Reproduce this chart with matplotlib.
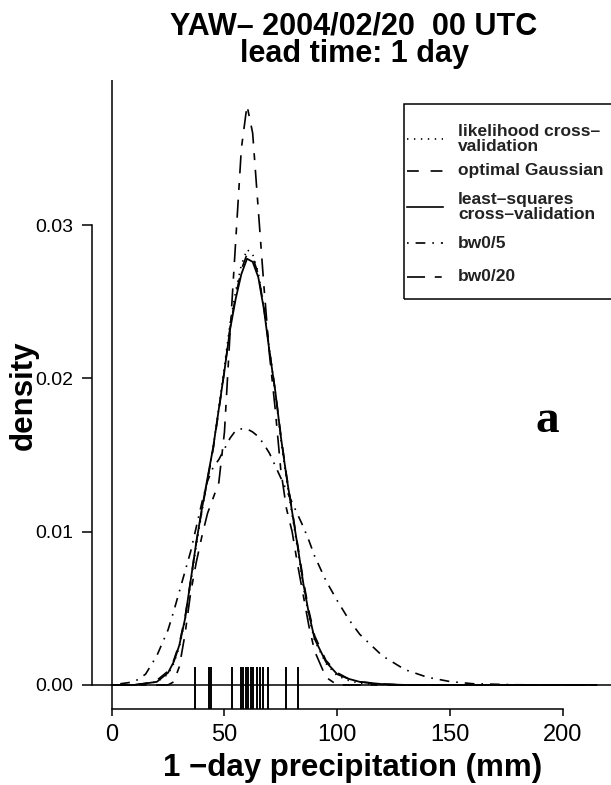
import matplotlib.pyplot as plt
from matplotlib.lines import Line2D
from matplotlib.patches import Rectangle

plt.rcParams['font.family'] = ['Liberation Sans', 'DejaVu Sans']
plt.rcParams['lines.scale_dashes'] = False

# precipitation grid (mm) and density estimates
x = [0, 10, 15, 20, 25, 27.5, 30, 32.5, 35, 37.5, 40, 42.5, 45, 47.5, 50, 52.5,
     55, 57.5, 60, 62.5, 65, 67.5, 70, 72.5, 75, 77.5, 80, 82.5, 85, 87.5, 90,
     95, 100, 105, 110, 120, 130, 140, 150, 160, 180, 200, 215]

lscv = [0, 0, 0.0001, 0.0002, 0.0008, 0.0015, 0.0026, 0.0043, 0.0068, 0.0093,
        0.0115, 0.0135, 0.0155, 0.0180, 0.0205, 0.0232, 0.0252, 0.0268, 0.0278,
        0.0276, 0.0266, 0.0245, 0.0217, 0.0192, 0.0162, 0.0136, 0.0113, 0.0090,
        0.0066, 0.0046, 0.0030, 0.0015, 0.0007, 0.0004, 0.0002, 0.00005, 0, 0,
        0, 0, 0, 0, 0]
likcv = [0, 0, 0.0001, 0.0002, 0.0007, 0.0014, 0.0025, 0.0042, 0.0066, 0.0091,
         0.0113, 0.0134, 0.0155, 0.0181, 0.0208, 0.0236, 0.0257, 0.0274, 0.0284,
         0.0281, 0.0269, 0.0247, 0.0218, 0.0191, 0.0160, 0.0134, 0.0111, 0.0088,
         0.0064, 0.0044, 0.0029, 0.0014, 0.0006, 0.0003, 0.0001, 0.00003, 0, 0,
         0, 0, 0, 0, 0]
optgauss = [0, 0, 0.0001, 0.0003, 0.0009, 0.0016, 0.0027, 0.0044, 0.0068, 0.0093,
            0.0114, 0.0134, 0.0154, 0.0179, 0.0205, 0.0233, 0.0254, 0.0271, 0.0281,
            0.0279, 0.0268, 0.0246, 0.0218, 0.0192, 0.0163, 0.0137, 0.0114, 0.0091,
            0.0068, 0.0048, 0.0032, 0.0016, 0.0008, 0.0004, 0.0002, 0.00006, 0, 0,
            0, 0, 0, 0, 0]
bw5 = [0, 0.0002, 0.0007, 0.0019, 0.0036, 0.0048, 0.0061, 0.0074, 0.0087, 0.0103,
       0.0119, 0.0133, 0.0142, 0.0147, 0.0154, 0.0161, 0.0166, 0.0167, 0.0167,
       0.0165, 0.0162, 0.0157, 0.0151, 0.0143, 0.0135, 0.0127, 0.0119, 0.0111,
       0.0103, 0.0094, 0.0084, 0.0068, 0.0055, 0.0043, 0.0033, 0.0019, 0.0010,
       0.0005, 0.00022, 0.00008, 0.00001, 0, 0]
bw20 = [0, 0, 0, 0, 0, 0.0002, 0.0012, 0.0033, 0.0060, 0.0080, 0.0097, 0.0112,
        0.0122, 0.0132, 0.0165, 0.0230, 0.0290, 0.0350, 0.0378, 0.0360, 0.0310,
        0.0260, 0.0215, 0.0180, 0.0140, 0.0115, 0.0100, 0.0078, 0.0058, 0.0038,
        0.0022, 0.0005, 0, 0, 0, 0, 0, 0, 0, 0, 0, 0, 0]

# observed ensemble values (rug)
rug = [37.0, 43.2, 44.2, 53.2, 57.2, 58.2, 59.6, 60.6, 61.6, 62.8, 64.3, 65.8,
       67.3, 69.5, 77.3, 82.8]

xticks = [0, 50, 100, 150, 200]
yticks = [0.00, 0.01, 0.02, 0.03]

styles = {
    'lik': (0, (1, 4)),
    'opt': (0, (8.5, 8.5)),
    'ls': '-',
    'bw5': (0, (1.2, 5, 7, 5)),
    'bw20': (0, (13, 7, 5, 7)),
}

W, H = 611, 785
fig = plt.figure(figsize=(W / 100, H / 100), dpi=100)
ax = fig.add_axes([92 / W, 1 - 709 / H, (613 - 92) / W, (709 - 80) / H])

ax.plot(x, likcv, color='black', lw=1.2, ls=styles['lik'])
ax.plot(x, optgauss, color='black', lw=1.2, ls=styles['opt'])
ax.plot(x, lscv, color='black', lw=1.3, ls=styles['ls'])
ax.plot(x, bw5, color='black', lw=1.2, ls=styles['bw5'])
ax.plot(x, bw20, color='black', lw=1.2, ls=styles['bw20'])

ax.vlines(rug, 0, 0.067, color='black', lw=1.4, transform=ax.get_xaxis_transform())
ax.axhline(0, color='black', lw=1.1)
ax.axvline(0, color='black', lw=1.1)

ax.set_xlim(-8.74, 222.3)
ax.set_ylim(-0.00157, 0.03946)
ax.set_xticks(xticks)
ax.set_yticks(yticks)
ax.set_yticklabels([f'{v:.2f}' for v in yticks])
ax.spines['top'].set_visible(False)
ax.spines['right'].set_visible(False)
ax.spines['left'].set_bounds(0, 0.03)
ax.spines['bottom'].set_bounds(0, 200)
for s in ('left', 'bottom'):
    ax.spines[s].set_linewidth(1.1)
ax.tick_params(axis='x', length=5, width=1.1, pad=6, labelsize=17)
ax.tick_params(axis='y', length=7, width=1.1, pad=6.5, labelsize=14)

fig.text(354 / W, 1 - 62 / H, 'YAW\u2013 2004/02/20  00 UTC\nlead time: 1 day',
         ha='center', va='baseline', multialignment='center', fontsize=22,
         fontweight='bold', linespacing=0.9)
fig.text(353 / W, 1 - 768 / H, '1 \u2212day precipitation (mm)', ha='center',
         va='center', fontsize=22.5, fontweight='bold')
fig.text(24 / W, 1 - 395 / H, 'density', ha='center', va='center',
         rotation=90, fontsize=22.5, fontweight='bold')
ax.text(0.873, 0.458, 'a', transform=ax.transAxes, ha='center', va='center',
        fontsize=34, fontweight='bold', family='Liberation Serif')

# legend box, drawn by hand to match the original spacing
fx = lambda px: px / W
fy = lambda py: 1 - py / H
fig.add_artist(Rectangle((fx(404), fy(299)), fx(640) - fx(404), fy(104) - fy(299),
                         transform=fig.transFigure, fill=False, lw=1.1,
                         edgecolor='black', clip_on=False))
legend_rows = [
    ('likelihood cross\u2013\nvalidation', 'lik', 139),
    ('optimal Gaussian', 'opt', 171),
    ('least\u2013squares\ncross\u2013validation', 'ls', 207),
    ('bw0/5', 'bw5', 243),
    ('bw0/20', 'bw20', 277),
]
for label, key, py in legend_rows:
    fig.add_artist(Line2D([fx(407), fx(443)], [fy(py), fy(py)],
                          transform=fig.transFigure, color='black', lw=1.2,
                          ls=styles[key]))
    fig.text(fx(458), fy(py), label, ha='left', va='center', fontsize=12.5,
             fontweight='bold', linespacing=0.95, color='#222222')

fig.savefig('out.png', dpi=100)
